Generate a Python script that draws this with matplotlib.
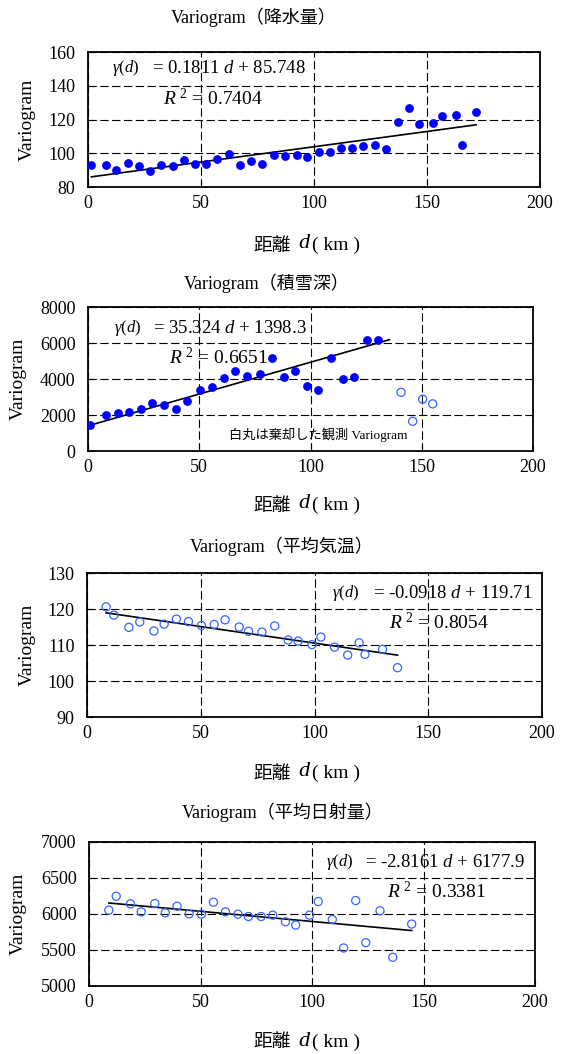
import matplotlib
matplotlib.use("Agg")
import matplotlib.pyplot as plt
import numpy as np

plt.rcParams['font.family'] = ['Liberation Serif', 'Noto Sans CJK JP', 'DejaVu Sans']
plt.rcParams['mathtext.fontset'] = 'custom'
plt.rcParams['mathtext.rm'] = 'Liberation Serif'
plt.rcParams['mathtext.it'] = 'Liberation Serif:italic'
plt.rcParams['lines.scale_dashes'] = False

W, H = 564, 1054

# 降水量
rain_d = [1.5, 8.1, 12.3, 17.7, 22.6, 27.3, 32.5, 37.6, 42.5, 47.2, 52.1, 57.3, 62.4, 67.2,
          72.0, 76.9, 82.4, 87.1, 92.3, 97.1, 102.0, 107.3, 111.9, 116.9, 121.9, 126.8,
          131.8, 137.0, 142.1, 146.6, 152.5, 156.5, 162.8, 165.6, 171.7]
rain_v = [92.8, 92.8, 90.3, 94.4, 92.3, 89.3, 93.2, 92.5, 95.8, 93.4, 93.8, 96.6, 99.4, 92.8,
          95.6, 93.8, 99.0, 98.4, 98.8, 97.6, 100.8, 100.8, 103.1, 103.1, 104.3, 104.7,
          102.3, 118.5, 126.8, 117.5, 118.1, 122.1, 122.5, 104.7, 124.3]

# 積雪深
snow_d = [0.7, 8.0, 13.4, 18.6, 23.7, 28.6, 34.3, 39.5, 44.6, 50.3, 55.7, 61.1, 66.0,
          71.6, 77.2, 82.6, 88.0, 92.9, 98.6, 103.5, 109.3, 114.4, 119.4, 125.5, 130.3]
snow_v = [1450, 2000, 2090, 2180, 2350, 2640, 2580, 2350, 2790, 3390, 3550, 4060, 4470,
          4190, 4260, 5140, 4100, 4430, 3630, 3390, 5140, 3990, 4120, 6180, 6180]
snow_rej_d = [140.7, 145.9, 150.4, 154.9]
snow_rej_v = [3260, 1650, 2880, 2620]

# 平均気温
temp_d = [8.4, 11.8, 18.4, 23.2, 29.4, 33.9, 39.3, 44.6, 50.3, 55.9, 60.7, 66.9, 71.0,
          76.9, 82.5, 88.4, 92.8, 98.9, 102.8, 108.8, 114.6, 119.6, 122.2, 129.9, 136.5]
temp_v = [120.6, 118.3, 114.9, 116.4, 113.9, 115.8, 117.2, 116.5, 115.4, 115.7, 117.0,
          115.0, 113.8, 113.6, 115.3, 111.4, 111.1, 110.1, 112.2, 109.4, 107.2, 110.6,
          107.4, 108.8, 103.7]

# 平均日射量
sun_d = [8.9, 12.2, 18.6, 23.4, 29.5, 34.2, 39.5, 44.9, 50.4, 55.8, 61.2, 66.8, 71.5,
         77.2, 82.4, 88.1, 92.7, 98.9, 102.8, 109.1, 114.2, 119.6, 124.1, 130.5, 136.2, 144.7]
sun_v = [6053, 6247, 6141, 6030, 6145, 6016, 6108, 6002, 5998, 6164, 6030, 5998, 5965,
         5965, 5984, 5892, 5846, 5984, 6173, 5924, 5528, 6187, 5602, 6044, 5399, 5860]

panels = [
    {"title": "Variogram（降水量）", "box": (88, 52, 540, 187), "ylim": (80, 160), "ystep": 20,
     "slope": 0.1811, "icpt": 85.748, "r2": "0.7404", "eq": ("0.1811", "85.748"),
     "title_xy": (254, 17), "ylab_x": 27, "xlab_y": 245,
     "gam": (0.053, 0.88), "eq_x": 0.142, "r_xy": (0.166, 0.652)},
    {"title": "Variogram（積雪深）", "box": (88, 307, 533, 451), "ylim": (0, 8000), "ystep": 2000,
     "slope": 35.324, "icpt": 1398.3, "r2": "0.6651", "eq": ("35.324", "1398.3"),
     "title_xy": (267, 283), "ylab_x": 18, "xlab_y": 505,
     "gam": (0.058, 0.854), "eq_x": 0.146, "r_xy": (0.182, 0.646)},
    {"title": "Variogram（平均気温）", "box": (87, 573, 542, 717), "ylim": (90, 130), "ystep": 10,
     "slope": -0.0918, "icpt": 119.71, "r2": "0.8054", "eq": ("-0.0918", "119.71"),
     "title_xy": (282, 546), "ylab_x": 27, "xlab_y": 773,
     "gam": (0.538, 0.861), "eq_x": 0.629, "r_xy": (0.664, 0.653)},
    {"title": "Variogram（平均日射量）", "box": (89, 842, 535, 986), "ylim": (5000, 7000), "ystep": 500,
     "slope": -2.8161, "icpt": 6177.9, "r2": "0.3381", "eq": ("-2.8161", "6177.9"),
     "title_xy": (283, 812), "ylab_x": 18, "xlab_y": 1042,
     "gam": (0.531, 0.861), "eq_x": 0.619, "r_xy": (0.668, 0.653)},
]

fig = plt.figure(figsize=(W / 100, H / 100), dpi=100)


def make_axes(p):
    x0, y0, x1, y1 = p["box"]
    ax = fig.add_axes([x0 / W, 1 - y1 / H, (x1 - x0) / W, (y1 - y0) / H])
    ax.set_xlim(0, 200)
    ax.set_ylim(*p["ylim"])
    ax.set_xticks(np.arange(0, 201, 50))
    ax.set_yticks(np.arange(p["ylim"][0], p["ylim"][1] + 1, p["ystep"]))
    ax.grid(True, color='black', linestyle=(0, (6, 2.5)), linewidth=0.8)
    ax.set_axisbelow(True)
    ax.tick_params(direction='in', length=4, width=0.8, labelsize=13)
    ax.tick_params(axis='y', pad=9)
    ax.tick_params(axis='x', pad=6)
    for s in ax.spines.values():
        s.set_linewidth(1.3)
    fig.text(p["title_xy"][0] / W, 1 - p["title_xy"][1] / H, p["title"],
             ha='center', va='center', fontsize=13)
    fig.text(p["ylab_x"] / W, 1 - (y0 + y1) / 2 / H, "Variogram", rotation=90,
             ha='center', va='center', fontsize=14)
    # x label: 距離 d ( km ), split so the italic d can sit between the pieces
    ly = 1 - p["xlab_y"] / H
    fig.text(291 / W, ly, "距離", ha='right', va='center', fontsize=13.5,
             family=['Noto Sans CJK JP'])
    fig.text(298 / W, ly + 1 / H, "d", ha='left', va='center', fontsize=16, style='italic',
             family=['Liberation Serif'])
    fig.text(312 / W, ly, "( km )", ha='left', va='center', fontsize=14,
             family=['Liberation Serif'])
    return ax


def draw_fit(ax, p, d):
    xs = np.array([min(d), max(d)])
    ax.plot(xs, p["slope"] * xs + p["icpt"], color='black', linewidth=1.2, zorder=3)
    ax.text(p["gam"][0], p["gam"][1], r"$\gamma(d)$", transform=ax.transAxes,
            ha='left', va='center', fontsize=12)
    ax.text(p["eq_x"], p["gam"][1], "= %s $d$ + %s" % p["eq"], transform=ax.transAxes,
            ha='left', va='center', fontsize=13.5)
    ax.text(p["r_xy"][0], p["r_xy"][1], r"$R^{\ 2}$ = " + p["r2"], transform=ax.transAxes,
            ha='left', va='center', fontsize=14)


filled = dict(color='#0000ff', s=40, zorder=4, linewidths=0)
hollow = dict(facecolors='none', edgecolors='#3366ff', s=34, linewidths=0.9, zorder=4)

ax1 = make_axes(panels[0])
ax1.scatter(rain_d, rain_v, **filled)
draw_fit(ax1, panels[0], rain_d)

ax2 = make_axes(panels[1])
ax2.scatter(snow_d, snow_v, **filled)
ax2.scatter(snow_rej_d, snow_rej_v, **hollow)
draw_fit(ax2, panels[1], snow_d + [135.5])
ax2.text(0.316, 0.11, "白丸は棄却した観測 Variogram", transform=ax2.transAxes,
         ha='left', va='center', fontsize=9.5)

ax3 = make_axes(panels[2])
ax3.scatter(temp_d, temp_v, **hollow)
draw_fit(ax3, panels[2], temp_d)

ax4 = make_axes(panels[3])
ax4.scatter(sun_d, sun_v, **hollow)
draw_fit(ax4, panels[3], sun_d)

fig.savefig("out.png", dpi=100)
